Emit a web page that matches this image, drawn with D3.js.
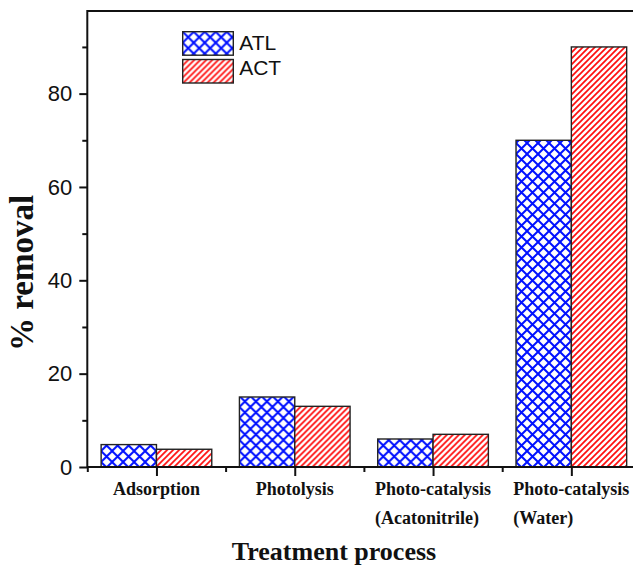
<!DOCTYPE html>
<html>
<head>
<meta charset="utf-8">
<script src="https://cdn.jsdelivr.net/npm/d3@7"></script>
<style>
  body { margin: 0; background: white; }
  .tick-label { font-family: "Liberation Sans", Arial, sans-serif; font-size: 22px; fill: #111; }
  .cat-label { font-family: "Liberation Serif", "Times New Roman", serif; font-weight: bold; font-size: 18px; fill: #111; }
  .axis-title { font-family: "Liberation Serif", "Times New Roman", serif; font-weight: bold; fill: #111; }
  .legend-text { font-family: "Liberation Sans", Arial, sans-serif; font-size: 21px; fill: #111; }
</style>
</head>
<body>
<div id="chart"></div>
<script>
// data
const categories = [["Adsorption"], ["Photolysis"], ["Photo-catalysis", "(Acatonitrile)"], ["Photo-catalysis", "(Water)"]]
const series = ["ATL", "ACT"]
const atlValues = [4.8, 15, 6, 70]
const actValues = [3.8, 13, 7, 90]
const yTicks = [0, 20, 40, 60, 80]
const yMinorTicks = [10, 30, 50, 70, 90]

; (function () {
    const W = 633, H = 566
    const plotLeft = 87.3, plotRight = 640.5, plotTop = 11, plotBottom = 467

    const svg = d3.select("#chart")
        .append("svg")
        .attr("width", W)
        .attr("height", H)

    // hatch patterns
    const defs = svg.append("defs")
    const cross = defs.append("pattern")
        .attr("id", "hatch-atl")
        .attr("patternUnits", "userSpaceOnUse")
        .attr("width", 11).attr("height", 11)
    cross.append("rect").attr("width", 11).attr("height", 11).attr("fill", "white")
    cross.append("path")
        .attr("d", "M-1,-1L12,12M12,-1L-1,12")
        .attr("stroke", "#0010ff").attr("stroke-width", 2).attr("fill", "none")

    const diag = defs.append("pattern")
        .attr("id", "hatch-act")
        .attr("patternUnits", "userSpaceOnUse")
        .attr("width", 6).attr("height", 6)
    diag.append("rect").attr("width", 6).attr("height", 6).attr("fill", "white")
    diag.append("path")
        .attr("d", "M-1,7L7,-1M-1,1L1,-1M5,7L7,5")
        .attr("stroke", "#ff0c0c").attr("stroke-width", 1.7).attr("fill", "none")

    const fills = { ATL: "url(#hatch-atl)", ACT: "url(#hatch-act)" }

    const xScale = d3.scaleBand()
        .domain(d3.range(categories.length))
        .range([plotLeft, plotRight])
        .paddingInner(0.2)
        .paddingOuter(0.1)
    const xSub = d3.scaleBand()
        .domain(series)
        .range([0, xScale.bandwidth()])
    const yScale = d3.scaleLinear()
        .domain([0, 97.7])
        .range([plotBottom, plotTop])

    const rows = categories.map((c, i) => ({ i: i, ATL: atlValues[i], ACT: actValues[i] }))

    // bars
    const groups = svg.append("g").selectAll("g")
        .data(rows)
        .join("g")
        .attr("transform", d => "translate(" + xScale(d.i) + ",0)")

    groups.selectAll("rect")
        .data(d => series.map(s => ({ key: s, value: d[s] })))
        .join("rect")
        .attr("x", d => xSub(d.key))
        .attr("y", d => yScale(d.value))
        .attr("width", xSub.bandwidth())
        .attr("height", d => yScale(0) - yScale(d.value))
        .attr("fill", d => fills[d.key])
        .attr("stroke", "#222")
        .attr("stroke-width", 1.4)

    // frame (top + left) and baseline
    svg.append("path")
        .attr("d", "M" + plotLeft + "," + plotBottom + "V" + plotTop + "H" + plotRight)
        .attr("fill", "none").attr("stroke", "#111").attr("stroke-width", 2)
    svg.append("line")
        .attr("x1", plotLeft).attr("x2", plotRight)
        .attr("y1", plotBottom).attr("y2", plotBottom)
        .attr("stroke", "#111").attr("stroke-width", 2)

    // y axis
    const yG = svg.append("g")
        .attr("transform", "translate(" + plotLeft + ",0)")
        .call(d3.axisLeft(yScale).tickValues(yTicks).tickSize(8).tickPadding(7))
    yG.select(".domain").remove()
    yG.selectAll("line").attr("stroke", "#111").attr("stroke-width", 2)
    yG.selectAll("text").attr("class", "tick-label")
    yG.attr("font-size", null).attr("font-family", null)

    const yMinor = svg.append("g")
        .attr("transform", "translate(" + plotLeft + ",0)")
        .call(d3.axisLeft(yScale).tickValues(yMinorTicks).tickSize(5).tickFormat(""))
    yMinor.select(".domain").remove()
    yMinor.selectAll("line").attr("stroke", "#111").attr("stroke-width", 2)

    // x axis: major ticks at category centres, minor at band boundaries
    const xCenter = i => xScale(i) + xScale.bandwidth() / 2
    const xLinear = d3.scaleLinear().domain([plotLeft, plotRight]).range([plotLeft, plotRight])
    const bounds = d3.range(categories.length).map(i => xScale(i) - xScale.step() * xScale.paddingInner() / 2)
    bounds[0] = plotLeft

    const xG = svg.append("g")
        .attr("transform", "translate(0," + plotBottom + ")")
        .call(d3.axisBottom(xLinear).tickValues(d3.range(categories.length).map(xCenter)).tickSize(9).tickFormat(""))
    xG.select(".domain").remove()
    xG.selectAll("line").attr("stroke", "#111").attr("stroke-width", 2)

    const xMinorG = svg.append("g")
        .attr("transform", "translate(0," + plotBottom + ")")
        .call(d3.axisBottom(xLinear).tickValues(bounds).tickSize(5).tickFormat(""))
    xMinorG.select(".domain").remove()
    xMinorG.selectAll("line").attr("stroke", "#111").attr("stroke-width", 2)

    // category labels: first line centred, second line aligned to its start
    categories.forEach((lines, i) => {
        const first = svg.append("text")
            .attr("class", "cat-label")
            .attr("x", xCenter(i))
            .attr("y", 495)
            .attr("text-anchor", "middle")
            .text(lines[0])
        if (lines.length > 1) {
            const w = first.node().getComputedTextLength()
            svg.append("text")
                .attr("class", "cat-label")
                .attr("x", xCenter(i) - w / 2)
                .attr("y", 524)
                .text(lines[1])
        }
    })

    // axis titles
    svg.append("text")
        .attr("class", "axis-title")
        .attr("x", 334)
        .attr("y", 560)
        .attr("text-anchor", "middle")
        .attr("font-size", 26)
        .text("Treatment process")

    svg.append("text")
        .attr("class", "axis-title")
        .attr("transform", "translate(33,273) rotate(-90)")
        .attr("text-anchor", "middle")
        .attr("font-size", 33)
        .text("% removal")

    // legend
    const legend = svg.append("g").selectAll("g")
        .data(series)
        .join("g")
        .attr("transform", (d, i) => "translate(182.7," + (31.7 + i * 27.8) + ")")
    legend.append("rect")
        .attr("width", 50.6).attr("height", 23.5)
        .attr("fill", d => fills[d])
        .attr("stroke", "#222").attr("stroke-width", 1.4)
    legend.append("text")
        .attr("class", "legend-text")
        .attr("x", 56.5)
        .attr("y", (d, i) => i === 0 ? 18.5 : 15.5)
        .text(d => d)
})()
</script>
</body>
</html>
